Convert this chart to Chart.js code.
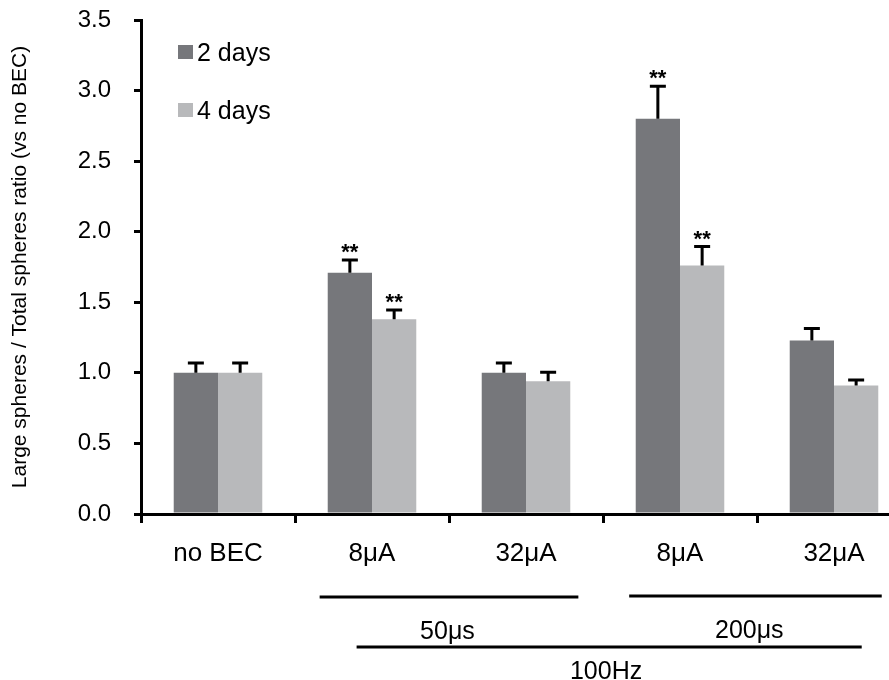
<!DOCTYPE html>
<html>
<head>
<meta charset="utf-8">
<script src="https://cdn.jsdelivr.net/npm/chart.js@4.4.1/dist/chart.umd.min.js"></script>
<style>
  html, body { margin: 0; padding: 0; background: #fff; overflow: hidden; }
  #wrap { width: 889px; height: 680px; overflow: hidden; }
</style>
</head>
<body>
<div id="wrap"><canvas id="c" width="925" height="680"></canvas></div>
<script>
// ---- data ----
const categories = ["no BEC", "8μA", "32μA", "8μA", "32μA"];
const seriesLabels = ["2 days", "4 days"];
const days2 = [1.00, 1.71, 1.00, 2.80, 1.23];
const days4 = [1.00, 1.38, 0.94, 1.76, 0.91];
const err2 = [0.07, 0.09, 0.07, 0.23, 0.085];
const err4 = [0.07, 0.065, 0.065, 0.135, 0.04];
const sig2 = ["", "**", "", "**", ""];
const sig4 = ["", "**", "", "**", ""];
const groupLabels = ["50μs", "200μs", "100Hz"];
const yTicks = [0, 0.5, 1.0, 1.5, 2.0, 2.5, 3.0, 3.5];
const yTitle = "Large spheres / Total spheres ratio (vs no BEC)";

const FONT = "'Liberation Sans', Arial, Helvetica, sans-serif";
const colors = ["#76777b", "#b8b9bb"];

// error bars + significance
const errorBarPlugin = {
  id: 'errorBars',
  afterDatasetsDraw(chart) {
    const ctx = chart.ctx;
    const y = chart.scales.y;
    const errs = [err2, err4];
    const sigs = [sig2, sig4];
    chart.data.datasets.forEach((ds, di) => {
      const meta = chart.getDatasetMeta(di);
      meta.data.forEach((bar, i) => {
        const top = y.getPixelForValue(ds.data[i] + errs[di][i]);
        const base = bar.y;
        ctx.save();
        ctx.strokeStyle = '#000';
        ctx.lineWidth = 3;
        ctx.beginPath();
        ctx.moveTo(bar.x, base);
        ctx.lineTo(bar.x, top);
        ctx.moveTo(bar.x - 8, top);
        ctx.lineTo(bar.x + 8, top);
        ctx.stroke();
        if (sigs[di][i]) {
          ctx.fillStyle = '#000';
          ctx.font = "bold 22px " + FONT;
          ctx.textAlign = 'center';
          ctx.textBaseline = 'alphabetic';
          ctx.fillText(sigs[di][i], bar.x, top - 1);
        }
        ctx.restore();
      });
    });
  }
};

// legend (vertical, inside chart area)
const legendPlugin = {
  id: 'customLegend',
  afterDraw(chart) {
    const ctx = chart.ctx;
    ctx.save();
    ctx.font = "25px " + FONT;
    ctx.textBaseline = 'alphabetic';
    ctx.textAlign = 'left';
    chart.data.datasets.forEach((ds, i) => {
      const sy = 45 + i * 58;
      ctx.fillStyle = ds.backgroundColor;
      ctx.fillRect(178, sy, 15, 14);
      ctx.fillStyle = '#000';
      ctx.fillText(ds.label, 197, sy + 16);
    });
    ctx.restore();
  }
};

// group annotation lines under the x axis
const groupPlugin = {
  id: 'groups',
  afterDraw(chart) {
    const ctx = chart.ctx;
    const x = chart.scales.x;
    const px = v => x.getPixelForValue(0) + v * (x.getPixelForValue(1) - x.getPixelForValue(0));
    const groups = [
      { label: groupLabels[0], from: 0.66, to: 2.34, lineY: 597, textX: 1.49, textY: 639 },
      { label: groupLabels[1], from: 2.67, to: 4.31, lineY: 596, textX: 3.45, textY: 638 },
      { label: groupLabels[2], from: 0.90, to: 4.18, lineY: 647, textX: 2.52, textY: 679 }
    ];
    ctx.save();
    ctx.strokeStyle = '#000';
    ctx.lineWidth = 3;
    ctx.fillStyle = '#000';
    ctx.font = "25px " + FONT;
    ctx.textAlign = 'center';
    ctx.textBaseline = 'alphabetic';
    groups.forEach(g => {
      ctx.beginPath();
      ctx.moveTo(px(g.from), g.lineY);
      ctx.lineTo(px(g.to), g.lineY);
      ctx.stroke();
      ctx.fillText(g.label, px(g.textX), g.textY);
    });
    ctx.restore();
  }
};

new Chart(document.getElementById('c'), {
  type: 'bar',
  data: {
    labels: categories,
    datasets: [
      { label: seriesLabels[0], data: days2, backgroundColor: colors[0], borderWidth: 0 },
      { label: seriesLabels[1], data: days4, backgroundColor: colors[1], borderWidth: 0 }
    ]
  },
  options: {
    responsive: false,
    devicePixelRatio: 1,
    animation: false,
    layout: { padding: { top: 20, right: 14, left: 0, bottom: 0 } },
    datasets: { bar: { categoryPercentage: 0.575, barPercentage: 1.0 } },
    plugins: { legend: { display: false }, tooltip: { enabled: false } },
    scales: {
      x: {
        afterFit(s) { s.height = 166; s.paddingLeft = 0; s.paddingRight = 0; },
        grid: { offset: true, drawOnChartArea: false, drawTicks: true, tickLength: 9, color: '#000', lineWidth: 3 },
        border: { display: true, color: '#000', width: 3 },
        ticks: { color: '#000', font: { family: FONT, size: 26 }, padding: 15, maxRotation: 0, autoSkip: false }
      },
      y: {
        min: 0, max: 3.5,
        afterFit(s) { s.width = 141; s.paddingTop = 0; s.paddingBottom = 0; },
        afterBuildTicks(s) { s.ticks = yTicks.map(v => ({ value: v })); },
        grid: { drawOnChartArea: false, drawTicks: true, tickLength: 7, color: '#000', lineWidth: 3 },
        border: { display: true, color: '#000', width: 3 },
        ticks: { color: '#000', font: { family: FONT, size: 24 }, padding: 23, callback: v => Number(v).toFixed(1) },
        title: { display: true, text: yTitle, color: '#000', font: { family: FONT, size: 21 }, padding: { top: 8, bottom: 0 } }
      }
    }
  },
  plugins: [errorBarPlugin, legendPlugin, groupPlugin]
});
</script>
</body>
</html>
